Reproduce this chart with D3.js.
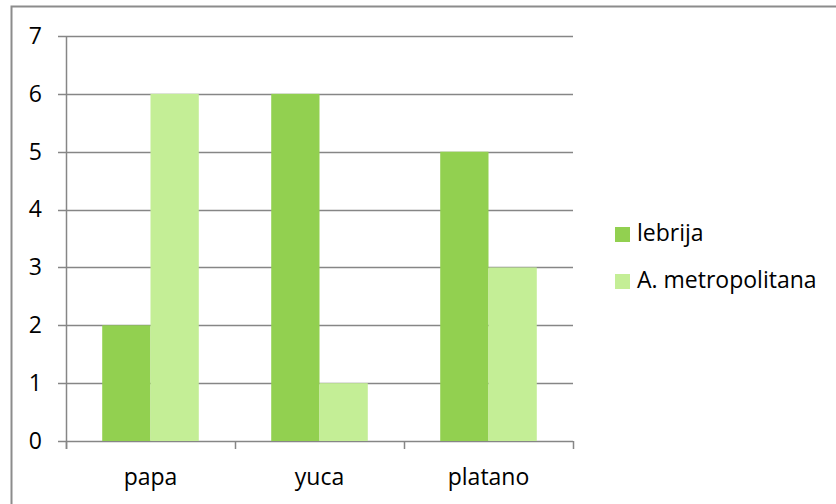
<!DOCTYPE html>
<html>
<head>
  <script src="https://d3js.org/d3.v7.min.js"></script>
  <style>
    body { margin: 0; background: #fff; }
    text { font-family: "Open Sans", "Noto Sans", sans-serif; fill: #000; }
  </style>
</head>
<body>
<script type="text/javascript">

  // chart data
  var categories = ["papa", "yuca", "platano"];
  var seriesNames = ["lebrija", "A. metropolitana"];
  var lebrija = [2, 6, 5];
  var metropolitana = [6, 1, 3];
  var yTicks = [0, 1, 2, 3, 4, 5, 6, 7];
  var colors = ["#92d050", "#c4ee96"];

  var width = 836, height = 504;
  var plot = {left: 66, right: 573, top: 36, bottom: 441};
  var fontSize = 23;

  var svg = d3.select("body").append("svg")
    .attr("width", width)
    .attr("height", height);

  // outer frame (right and bottom edges fall off the picture)
  svg.append("rect")
    .attr("x", 11.5).attr("y", 6.5)
    .attr("width", 840).attr("height", 510)
    .attr("fill", "none")
    .attr("stroke", "#8c8c8c")
    .attr("stroke-width", 2);

  var x = d3.scaleBand()
    .domain(categories)
    .range([plot.left, plot.right])
    .padding(0);

  var y = d3.scaleLinear()
    .domain([0, 7])
    .range([plot.bottom, plot.top]);

  // gap width 75% like the spreadsheet default
  var groupW = x.bandwidth() / 1.75;
  var xs = d3.scaleBand()
    .domain(seriesNames)
    .range([0, groupW]);

  // gridlines
  svg.append("g")
    .selectAll("line")
    .data(yTicks)
    .enter().append("line")
    .attr("x1", plot.left - 8)
    .attr("x2", plot.right)
    .attr("y1", function(d) { return Math.round(y(d)) + 0.5; })
    .attr("y2", function(d) { return Math.round(y(d)) + 0.5; })
    .attr("stroke", "#868686")
    .attr("stroke-width", 1.5);

  // bars
  var series = [lebrija, metropolitana];
  series.forEach(function(vals, si) {
    svg.append("g")
      .selectAll("rect")
      .data(vals)
      .enter().append("rect")
      .attr("x", function(d, i) {
        return x(categories[i]) + (x.bandwidth() - groupW) / 2 + xs(seriesNames[si]);
      })
      .attr("width", xs.bandwidth())
      .attr("y", function(d) { return y(d); })
      .attr("height", function(d) { return y(0) - y(d); })
      .attr("fill", colors[si]);
  });

  // y axis line
  svg.append("line")
    .attr("x1", plot.left + 0.5).attr("x2", plot.left + 0.5)
    .attr("y1", plot.top).attr("y2", plot.bottom + 8)
    .attr("stroke", "#868686")
    .attr("stroke-width", 1.5);

  // x axis
  var xAxis = d3.axisBottom(x).tickSize(0).tickPadding(27);
  var gx = svg.append("g")
    .attr("transform", "translate(0," + (Math.round(y(0)) + 0.5) + ")")
    .call(xAxis)
    .attr("font-size", fontSize)
    .attr("font-family", "'Open Sans', 'Noto Sans', sans-serif");
  gx.select(".domain").remove();
  gx.selectAll("text").attr("fill", "#000");

  // category boundary ticks
  var bounds = categories.map(function(c) { return x(c); }).concat([plot.right]);
  svg.append("g")
    .selectAll("line")
    .data(bounds)
    .enter().append("line")
    .attr("x1", function(d) { return Math.round(d) + 0.5; })
    .attr("x2", function(d) { return Math.round(d) + 0.5; })
    .attr("y1", plot.bottom)
    .attr("y2", plot.bottom + 8)
    .attr("stroke", "#868686")
    .attr("stroke-width", 1.5);

  // y labels
  var yAxis = d3.axisLeft(y).tickValues(yTicks).tickFormat(d3.format("d"))
    .tickSize(0).tickPadding(24);
  var gy = svg.append("g")
    .attr("transform", "translate(" + plot.left + ",0)")
    .call(yAxis)
    .attr("font-size", fontSize)
    .attr("font-family", "'Open Sans', 'Noto Sans', sans-serif");
  gy.select(".domain").remove();
  gy.selectAll("text").attr("fill", "#000");

  // legend
  var legend = svg.append("g")
    .attr("transform", "translate(615,227)");
  var item = legend.selectAll("g")
    .data(seriesNames)
    .enter().append("g")
    .attr("transform", function(d, i) { return "translate(0," + (i * 47) + ")"; });
  item.append("rect")
    .attr("width", 15).attr("height", 15)
    .attr("fill", function(d, i) { return colors[i]; });
  item.append("text")
    .attr("x", 22).attr("y", 14)
    .attr("font-size", fontSize)
    .text(function(d) { return d; });

</script>
</body>
</html>
